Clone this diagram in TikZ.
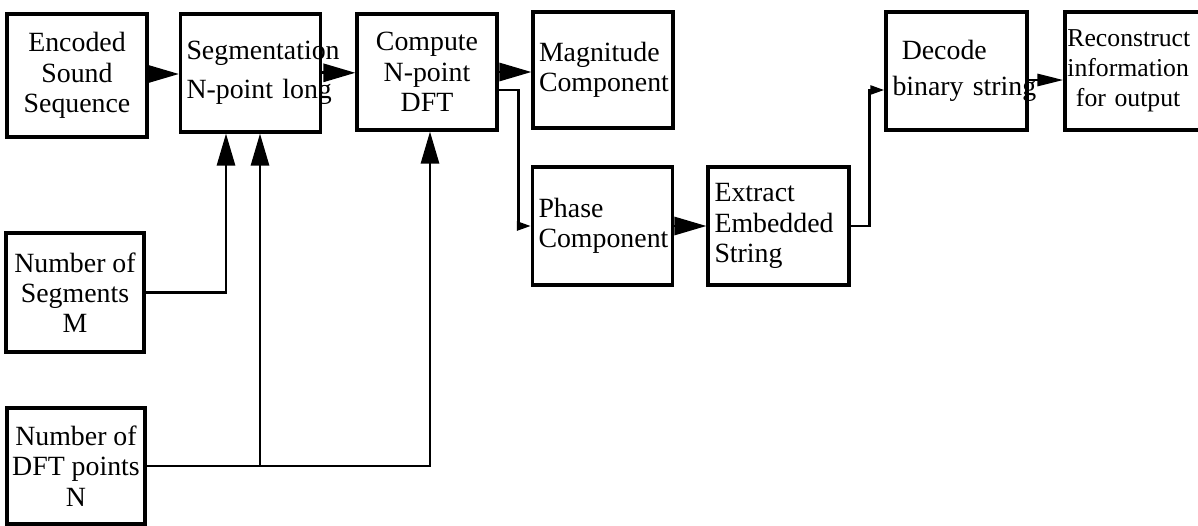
\documentclass[tikz,border=0pt]{standalone}
\usepackage{fontspec}
\setmainfont{Liberation Serif}
\usepackage{tikz}
\usetikzlibrary{arrows.meta, positioning, calc}

\begin{document}
\begin{tikzpicture}[font=\fontsize{19.8}{21.5}\selectfont, line width=2pt,
    b/.style={draw, line width=2.2pt, minimum width=3.5cm, minimum height=2.95cm,
        align=center, inner sep=0pt},
    lb/.style={b, align=left, text width=3.2cm, inner xsep=0.15cm},
    arr/.style={-{Triangle[length=0.8cm, width=0.45cm]}},
    marr/.style={-{Triangle[length=0.65cm, width=0.3cm]}},
    sarr/.style={-{Triangle[length=0.35cm, width=0.22cm]}}]
    \useasboundingbox (0, 0) rectangle (29.95, -13.125);
    \node[b, minimum height=3.075cm] (enc) at (1.925, -1.8875) {Encoded\\Sound\\Sequence};
    \node[lb, minimum width=3.475cm] (seg) at (6.2625, -1.825) {Segmentation\\[6pt]\mbox{N-point long}};
    \node[b, minimum height=2.9cm] (dft) at (10.675, -1.8) {Compute\\N-point\\DFT};
    \node[lb, minimum height=2.9cm] (mag) at (15.075, -1.75) {Magnitude\\Component};
    \node[lb, minimum width=3.475cm] (pha) at (15.0625, -5.65) {Phase\\Component};
    \node[lb, minimum width=3.525cm] (ext) at (19.4625, -5.65) {Extract\\Embedded\\String};
    \node[lb, minimum width=3.525cm] (dec) at (23.9125, -1.775) {\ Decode\\[4pt]\mbox{binary string}};
    \node[lb, inner xsep=0.06cm, text width=3.38cm, font=\fontsize{18.3}{21.5}\selectfont] (rec) at (28.375, -1.775) {Reconstruct\\information\\\ \mbox{for output}};
    \node[b, minimum width=3.45cm, minimum height=2.975cm] (nm) at (1.875, -7.3125) {Number of\\Segments\\M};
    \node[b, minimum width=3.45cm, minimum height=2.9cm] (nn) at (1.9, -11.65) {Number of\\DFT points\\N};
    \draw[arr] (enc.east |- 0, -1.85) -- (seg.west |- 0, -1.85);
    \draw[arr] (seg.east |- 0, -1.82) -- (dft.west |- 0, -1.82);
    \draw[arr] (dft.east) -- (dft.east -| mag.west);
    \draw[sarr] ([yshift=-0.45cm]dft.east) -- ++(0.5, 0) |- (pha.west);
    \draw[arr] (pha.east) -- (ext.west);
    \draw[sarr] (ext.east) -- ++(0.475, 0) |- ([yshift=-0.475cm]dec.west);
    \draw[marr] ([yshift=-0.225cm]dec.east) -- ([yshift=-0.225cm]rec.west);
    \draw[arr] (nm.east) -| ([xshift=-0.6125cm]seg.south);
    \draw[arr] (nn.east) -| ([xshift=0.075cm]dft.south);
    \draw[arr] ([xshift=0.2375cm]seg.south |- nn.east) -- ([xshift=0.2375cm]seg.south);
\end{tikzpicture}
\end{document}
